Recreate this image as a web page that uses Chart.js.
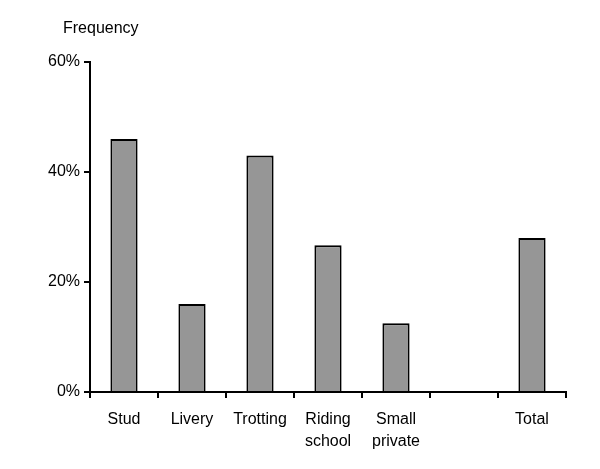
<!DOCTYPE html>
<html>
<head>
<meta charset="utf-8">
<script src="https://cdn.jsdelivr.net/npm/chart.js@4/dist/chart.umd.min.js"></script>
<style>
  html, body { margin: 0; padding: 0; background: #fff; }
  #wrap { width: 600px; height: 469px; }
</style>
</head>
<body>
<div id="wrap"><canvas id="freqChart" width="600" height="469"></canvas></div>
<script>
const categories = ['Stud', 'Livery', 'Trotting', ['Riding', 'school'], ['Small', 'private'], '', 'Total'];
const frequency = [46, 16, 43, 26.7, 12.5, null, 28];
const yTicks = [0, 20, 40, 60];

const fontFamily = '"Liberation Sans", Arial, sans-serif';

// draws the "Frequency" caption above the y axis
const axisCaption = {
  id: 'axisCaption',
  afterDraw(chart) {
    const ctx = chart.ctx;
    ctx.save();
    ctx.fillStyle = '#000';
    ctx.font = '16px ' + fontFamily;
    ctx.textBaseline = 'alphabetic';
    ctx.textAlign = 'left';
    ctx.fillText('Frequency', chart.chartArea.left - 27, 33);
    ctx.restore();
  }
};

new Chart(document.getElementById('freqChart').getContext('2d'), {
  type: 'bar',
  data: {
    labels: categories,
    datasets: [{
      data: frequency,
      backgroundColor: '#969696',
      borderColor: '#000',
      borderWidth: 2,
      barPercentage: 0.4,
      categoryPercentage: 1.0
    }]
  },
  options: {
    responsive: false,
    maintainAspectRatio: false,
    animation: false,
    layout: { padding: { top: 62, right: 34, left: 0, bottom: 0 } },
    plugins: {
      legend: { display: false },
      tooltip: { enabled: false }
    },
    scales: {
      x: {
        offset: true,
        grid: {
          offset: true,
          drawOnChartArea: false,
          drawTicks: true,
          tickLength: 6,
          color: '#000',
          lineWidth: 2
        },
        border: { display: true, color: '#000', width: 2 },
        ticks: {
          color: '#000',
          padding: 10,
          maxRotation: 0,
          autoSkip: false,
          font: { family: fontFamily, size: 16, lineHeight: 1.4 }
        },
        afterFit(scale) { scale.height = 77; }
      },
      y: {
        min: 0,
        max: 60,
        afterBuildTicks(scale) { scale.ticks = yTicks.map(v => ({ value: v })); },
        grid: {
          drawOnChartArea: false,
          drawTicks: true,
          tickLength: 6,
          color: '#000',
          lineWidth: 2
        },
        border: { display: true, color: '#000', width: 2 },
        ticks: {
          color: '#000',
          padding: 4,
          font: { family: fontFamily, size: 16 },
          callback: v => v + '%'
        },
        afterFit(scale) { scale.width = 90; }
      }
    }
  },
  plugins: [axisCaption]
});
</script>
</body>
</html>
